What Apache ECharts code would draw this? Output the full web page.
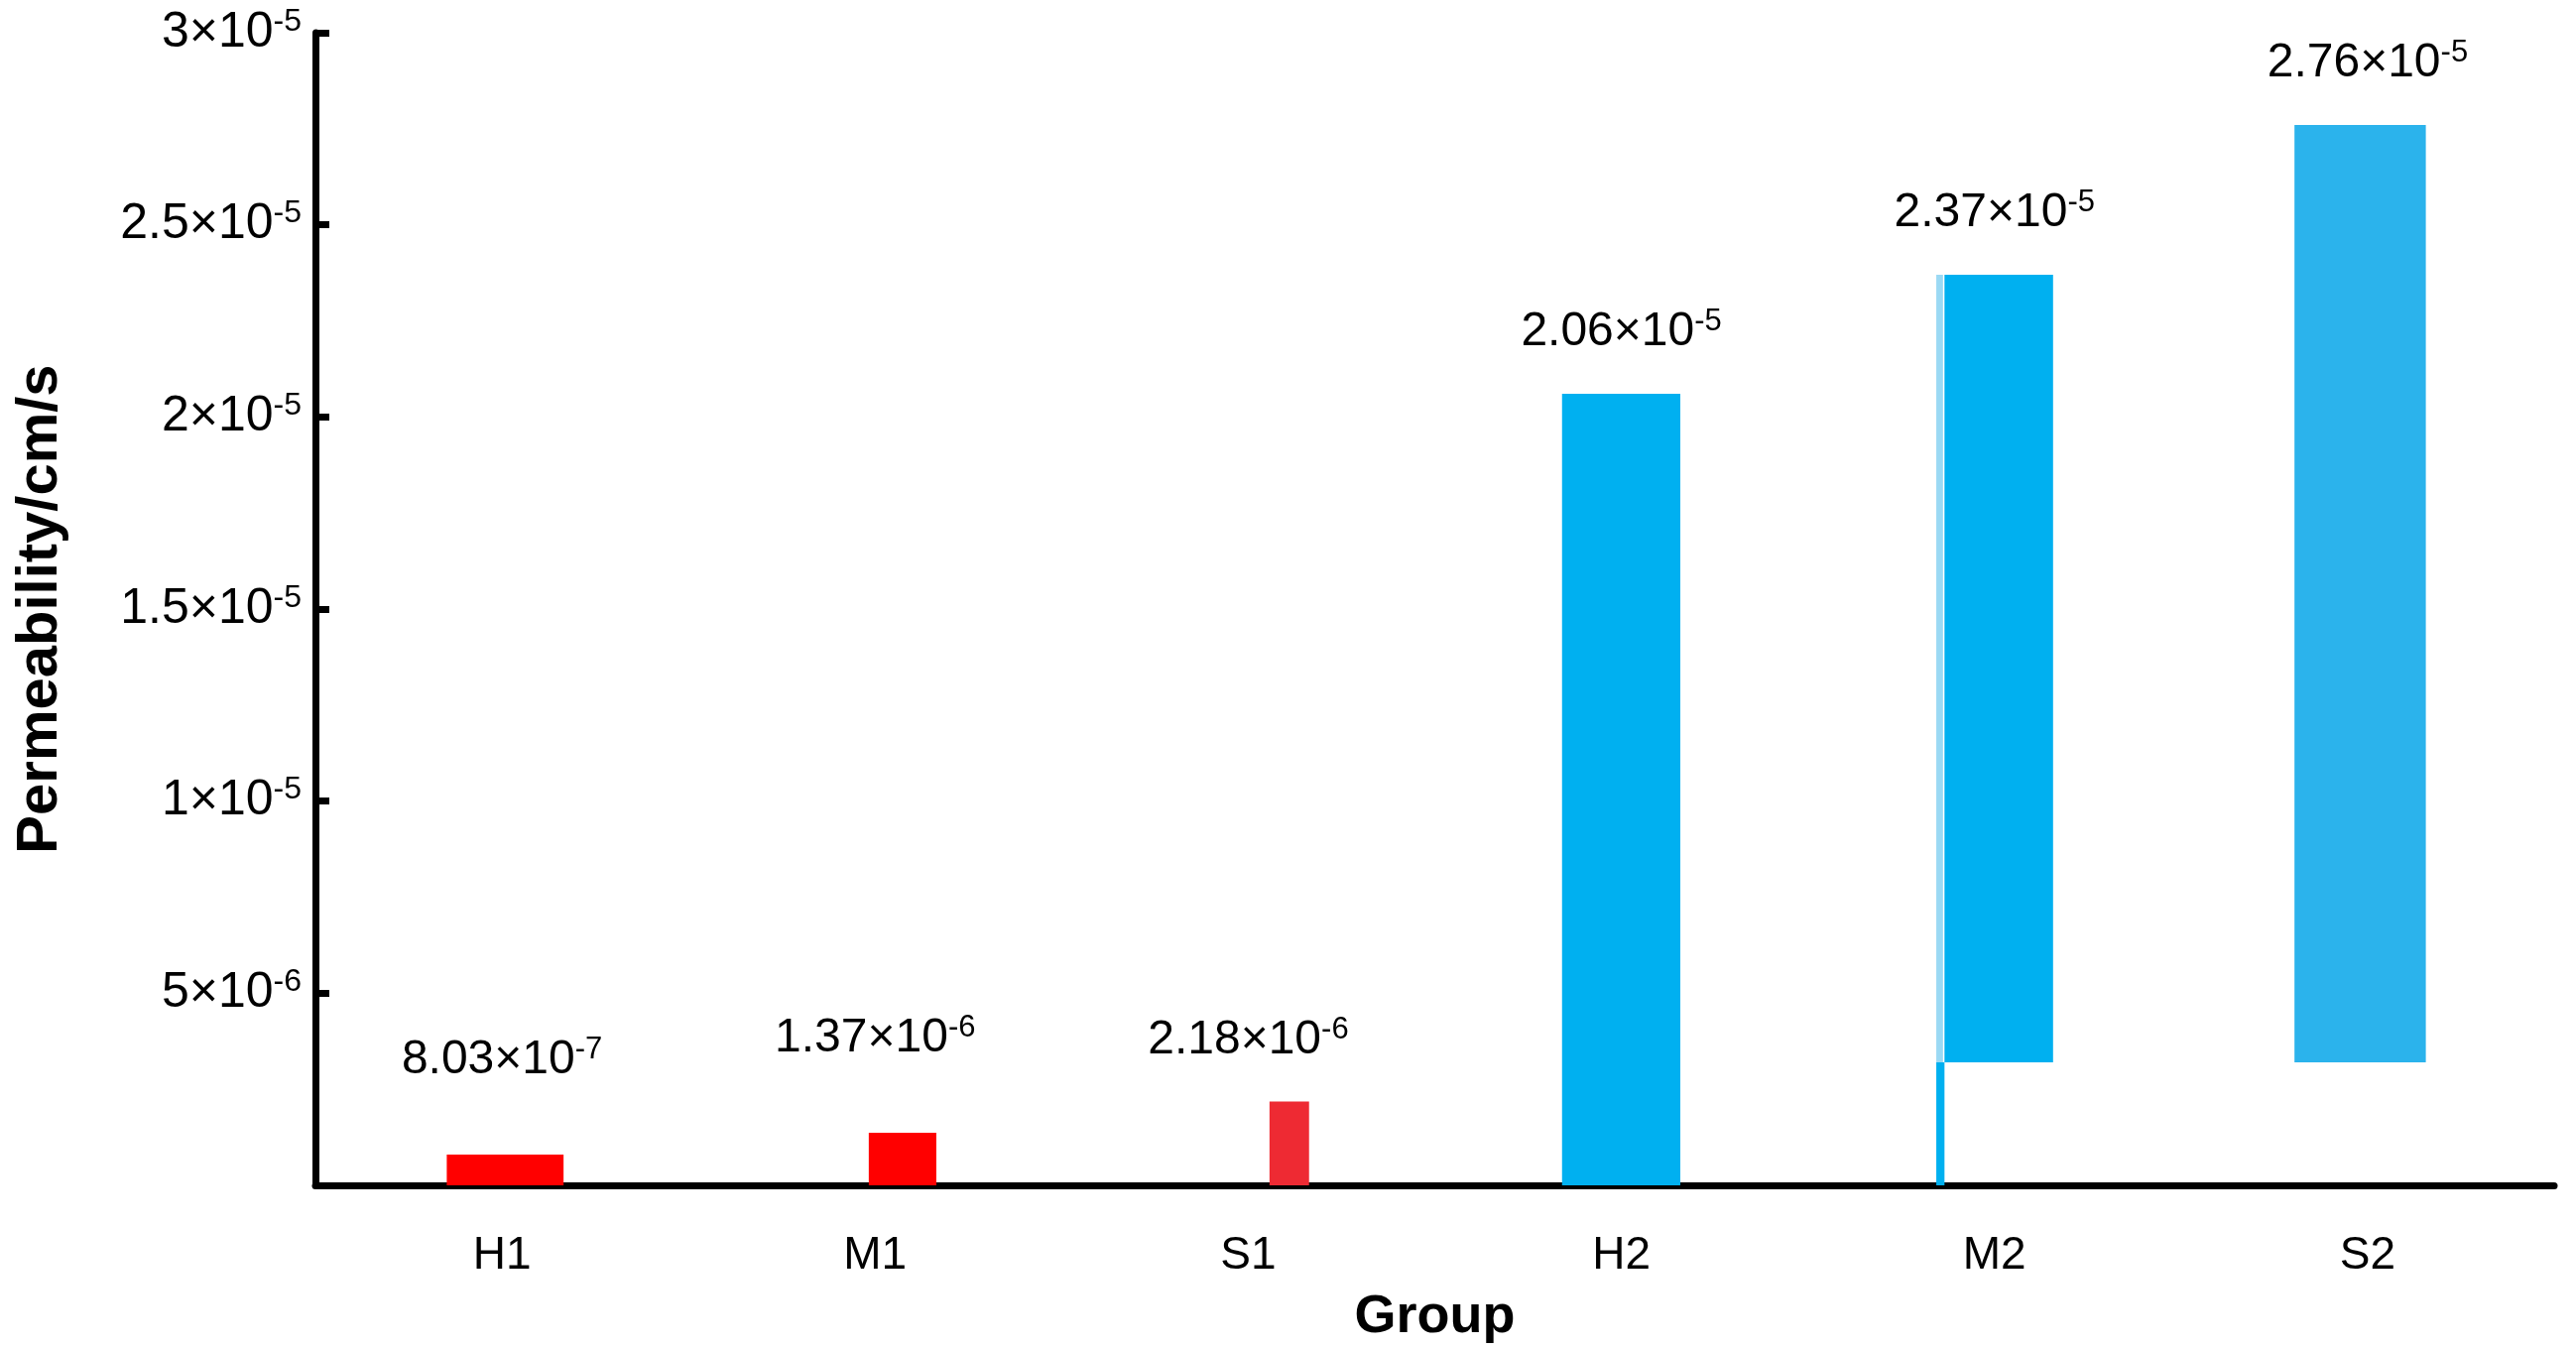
<!DOCTYPE html>
<html><head><meta charset="utf-8">
<script src="https://cdn.jsdelivr.net/npm/echarts@6/dist/echarts.min.js"></script>
<style>html,body{margin:0;padding:0;background:#fff}#c{width:2597px;height:1360px}</style>
</head><body><div id="c"></div>
<script>
var categories = ['H1','M1','S1','H2','M2','S2'];
var barLow  = [0, 0, 0, 0, 3.2e-6, 3.2e-6];
var barHigh = [8.03e-7, 1.37e-6, 2.18e-6, 2.06e-5, 2.37e-5, 2.76e-5];
var labelMant = ['8.03','1.37','2.18','2.06','2.37','2.76'];
var labelExp  = ['-7','-6','-6','-5','-5','-5'];
var m2StubHigh = 3.2e-6;
var yTicks = {5e-6:['5','-6'],1e-5:['1','-5'],1.5e-5:['1.5','-5'],2e-5:['2','-5'],2.5e-5:['2.5','-5'],3e-5:['3','-5']};

var geom = [[0.352,0.665],[0.483,0.664],[0.557,0.663],[0.341,0.658],[0.366,0.657],[0.304,0.656]];
var colors = ['#ff0000','#ff0000','#ee2a33','#00b0f0','#00b0f0','#2bb3ec'];
var labelLift = [95,95,62,62,62,62];

var F = '"Liberation Sans", Arial, sans-serif';
var chart = echarts.init(document.getElementById('c'));
function sci(m,e){return '{m|'+m+'×10}{e|'+e+'}';}
var richY = {m:{fontSize:50,fontFamily:F,color:'#000'},e:{fontSize:32,fontFamily:F,color:'#000',verticalAlign:'top',padding:[0,0,22,0]}};
var richB = {m:{fontSize:48,fontFamily:F,color:'#000'},e:{fontSize:31,fontFamily:F,color:'#000',verticalAlign:'top',padding:[0,0,21,0]}};
chart.setOption({
  animation:false,
  grid:{left:318,right:22,top:33,bottom:165},
  xAxis:{type:'category',data:categories,
    axisLine:{lineStyle:{color:'#000',width:7}},
    axisTick:{inside:true,length:14,lineStyle:{color:'#000',width:7}},
    axisLabel:{fontSize:46,fontFamily:F,color:'#000',margin:48},
    name:'Group',nameLocation:'middle',nameGap:106,
    nameTextStyle:{fontSize:54,fontWeight:'bold',fontFamily:F,color:'#000'}},
  yAxis:{type:'value',min:0,max:3e-5,interval:5e-6,
    axisLine:{show:true,lineStyle:{color:'#000',width:7}},
    axisTick:{show:true,inside:true,length:14,lineStyle:{color:'#000',width:7}},
    splitLine:{show:false},
    axisLabel:{margin:14,formatter:function(v){var t=null;for(var k in yTicks){if(Math.abs(k-v)<1e-9)t=yTicks[k];} return t?sci(t[0],t[1]):'';},rich:richY},
    name:'Permeability/cm/s',nameLocation:'middle',nameGap:248,
    nameTextStyle:{fontSize:58,fontWeight:'bold',fontFamily:F,color:'#000'}},
  series:[{type:'custom',
    data:categories.map(function(c,i){return [i,barLow[i],barHigh[i]];}),
    renderItem:function(params,api){
      var i=api.value(0);
      var c=api.coord([i,0]); var bw=api.size([1,0])[0];
      var x0=c[0]-bw/2;
      var yl=api.coord([i,api.value(1)])[1], yh=api.coord([i,api.value(2)])[1];
      var g=geom[i];
      var kids=[{type:'rect',shape:{x:x0+g[0]*bw,y:yh,width:(g[1]-g[0])*bw,height:yl-yh},style:{fill:colors[i]}}];
      if(i===4){
        var ys=api.coord([i,m2StubHigh])[1], y0=api.coord([i,0])[1];
        kids.push({type:'rect',shape:{x:x0+0.344*bw,y:ys,width:0.022*bw,height:y0-ys},style:{fill:'#00b0f0'}});
        kids.push({type:'rect',shape:{x:x0+0.344*bw,y:yh,width:0.018*bw,height:ys-yh},style:{fill:'#9bd9f4'}});
      }
      kids.push({type:'text',x:c[0],y:yh-labelLift[i],style:{text:sci(labelMant[i],labelExp[i]),rich:richB,align:'center',verticalAlign:'middle'}});
      return {type:'group',children:kids};
    }}]
});
</script></body></html>
